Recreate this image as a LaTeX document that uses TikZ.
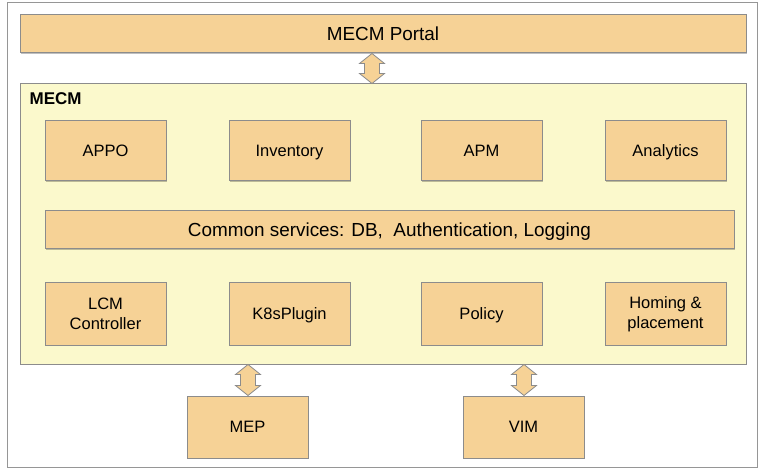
\documentclass[tikz,border=0pt]{standalone}
\usepackage{fontspec}
\setmainfont{Liberation Sans}
\usetikzlibrary{calc,shadows}
\definecolor{boxfill}{RGB}{246,210,150}
\definecolor{mecmfill}{RGB}{251,249,204}
\definecolor{edge}{RGB}{140,140,140}
\definecolor{frameedge}{RGB}{150,150,150}
\tikzset{
  comp/.style={draw=edge, fill=boxfill, line width=1pt, inner sep=2pt, align=center,
    font=\fontsize{16.5}{19.5}\selectfont,
    drop shadow={shadow xshift=1pt, shadow yshift=-1pt, opacity=0.25, fill=black}},
  oneline/.style={text height=10.8pt, text depth=0pt},
  wide/.style={comp, oneline, font=\fontsize{18.9}{21}\selectfont, text height=12.8pt},
  group/.style={draw=edge, fill=mecmfill, line width=1pt,
    drop shadow={shadow xshift=1pt, shadow yshift=-1pt, opacity=0.3, fill=black}},
  arrowshape/.style={draw=edge, fill=boxfill, line width=0.8pt, line join=miter},
}
\newcommand\dblarrowpath[2]{%
  \draw[arrowshape] (#1) -- ($(#1)+(12.5,10)$) -- ($(#1)+(7.5,10)$) -- ($(#2)+(7.5,-10)$)
    -- ($(#2)+(12.5,-10)$) -- (#2) -- ($(#2)+(-12.5,-10)$) -- ($(#2)+(-7.5,-10)$)
    -- ($(#1)+(-7.5,10)$) -- ($(#1)+(-12.5,10)$) -- cycle;}
\begin{document}
\begin{tikzpicture}[x=1pt,y=-1pt]
\useasboundingbox (0,0) rectangle (761,473);
% outer frame
\node[draw=frameedge, fill=white, line width=1pt, minimum width=750, minimum height=464,
  drop shadow={shadow xshift=1pt, shadow yshift=-1pt, opacity=0.3, fill=black}] (frame) at (382,235) {};
% portal
\node[wide, minimum width=726, minimum height=38] (portal) at (383,34) {MECM Portal};
% MECM group
\node[group, minimum width=726, minimum height=280] (mecm) at (383,224) {};
\node[anchor=west, font=\fontsize{17}{20}\selectfont\bfseries, inner sep=0pt] (mecmlabel) at (29.5,98.5) {MECM};
% row 1
\node[comp, oneline, minimum width=121, minimum height=60] (appo) at (105.5,151) {APPO};
\node[comp, oneline, minimum width=121, minimum height=60] (inv) at (289.5,151) {Inventory};
\node[comp, oneline, minimum width=121, minimum height=60] (apm) at (481.5,151) {APM};
\node[comp, oneline, minimum width=121, minimum height=60] (ana) at (665.5,151) {Analytics};
% common services
\node[wide, minimum width=689, minimum height=38] (common) at (389.5,230) {Common services: DB,\ \ Authentication, Logging};
% row 2
\node[comp, minimum width=121, minimum height=62] (lcm) at (105.5,314) {LCM\\Controller};
\node[comp, oneline, minimum width=121, minimum height=62] (k8s) at (289.5,314) {K8sPlugin};
\node[comp, oneline, minimum width=121, minimum height=62] (policy) at (481.5,314) {Policy};
\node[comp, minimum width=121, minimum height=62] (homing) at (665.5,314) {Homing \&\\placement};
% bottom
\node[comp, oneline, minimum width=121, minimum height=62] (mep) at (247.5,427) {MEP};
\node[comp, oneline, minimum width=121, minimum height=62] (vim) at (523.5,427) {VIM};
% connectors
\coordinate (pa) at (372,0);
\coordinate (ma) at (248,0);
\coordinate (va) at (524,0);
\coordinate (a1t) at (portal.south -| pa);
\coordinate (a1b) at (mecm.north -| pa);
\coordinate (a2t) at (mecm.south -| ma);
\coordinate (a2b) at (mep.north -| ma);
\coordinate (a3t) at (mecm.south -| va);
\coordinate (a3b) at (vim.north -| va);
\dblarrowpath{a1t}{a1b}
\dblarrowpath{a2t}{a2b}
\dblarrowpath{a3t}{a3b}
\end{tikzpicture}
\end{document}
